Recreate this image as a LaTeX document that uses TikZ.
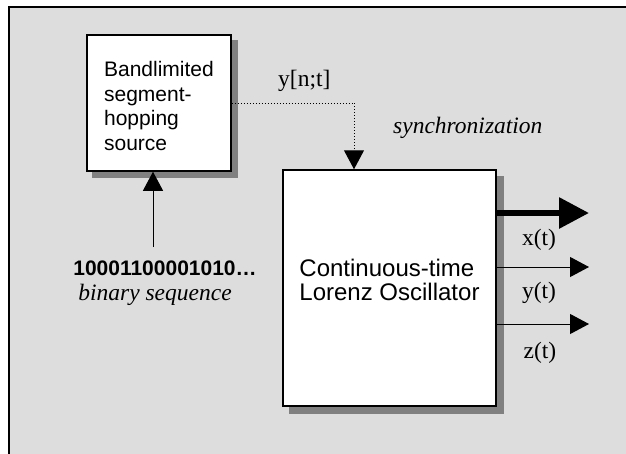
\documentclass[tikz,border=0pt]{standalone}
\usepackage{fontspec}
\setmainfont{Liberation Serif}
\setsansfont{Liberation Sans}
\usetikzlibrary{arrows.meta,backgrounds}
\definecolor{bggray}{RGB}{221,221,221}
\definecolor{shadowgray}{RGB}{128,128,128}
\tikzset{
  blockbox/.style={draw=black, line width=1.5pt, fill=white, inner sep=0pt, align=left,
    font=\sffamily},
  serifl/.style={font=\fontsize{23.5}{26}\selectfont, inner sep=0pt},
  sigarrow/.style={line width=1pt, -{Triangle[width=20pt,length=19pt]}},
  bigarrow/.style={line width=6pt, -{Triangle[width=30pt,length=30pt]}},
}
\begin{document}
\begin{tikzpicture}[x=1pt,y=-1pt]
\useasboundingbox (0,0) rectangle (626,453);

\node[blockbox, minimum width=144pt, minimum height=136pt,
      font=\sffamily\fontsize{21}{24.5}\selectfont] (src) at (159,103)
  {\rule{0pt}{21pt}Bandlimited\\segment-\\hopping\\source};

\node[blockbox, minimum width=213pt, minimum height=236pt,
      font=\sffamily\fontsize{24}{24}\selectfont] (osc) at (389.5,288)
  {Continuous-time\\Lorenz Oscillator\rule[-17pt]{0pt}{17pt}};

\begin{scope}[on background layer]
\clip (0,0) rectangle (626,453);
\fill[bggray] (9,7) rectangle (640,470);
\draw[line width=1.5pt] (9,470) -- (9,7) -- (640,7);
\fill[shadowgray] ([shift={(6,6)}]src.south west) rectangle ([shift={(6,6)}]src.north east);
\fill[shadowgray] ([shift={(7,7)}]osc.south west) rectangle ([shift={(7,7)}]osc.north east);
\end{scope}

\node[serifl, anchor=west] (ynt) at (278,81) {y[n;t]};
\node[serifl, anchor=west, font=\itshape\fontsize{23.5}{26}\selectfont] (syncl) at (393,128) {synchronization};

\node[inner sep=0pt, font=\sffamily\bfseries\fontsize{21}{24}\selectfont] (bits) at (165,268) {10001100001010…};
\node[serifl, font=\itshape\fontsize{23.5}{26}\selectfont] (binl) at (155,295) {binary sequence};

\coordinate (binstart) at (153,247);
\draw[sigarrow] (binstart) -- (binstart |- src.south);

\coordinate (syncc) at (354,103);
\draw[line width=1pt, dotted] (src.east |- syncc) -- (syncc);
\draw[line width=1pt, dotted, -{Triangle[width=20pt,length=19pt]}] (syncc) -- (syncc |- osc.north);

\coordinate (xout) at (589,213);
\coordinate (yout) at (589,267);
\coordinate (zout) at (589,324);
\draw[bigarrow] (xout -| osc.east) -- (xout);
\draw[sigarrow] (yout -| osc.east) -- (yout);
\draw[sigarrow] (zout -| osc.east) -- (zout);

\node[serifl] (xl) at (539,240) {x(t)};
\node[serifl] (yl) at (539,293) {y(t)};
\node[serifl] (zl) at (540,353) {z(t)};
\end{tikzpicture}
\end{document}
